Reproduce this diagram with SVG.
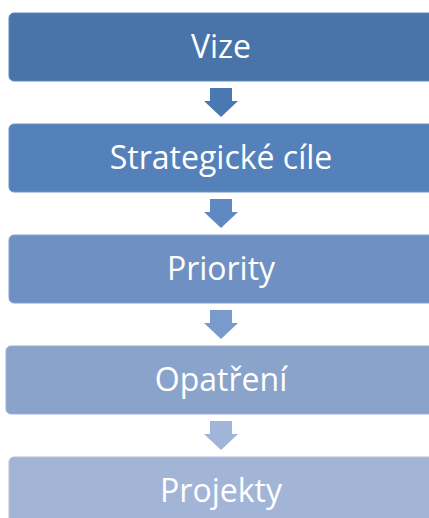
<svg xmlns="http://www.w3.org/2000/svg" width="429" height="518" viewBox="0 0 429 518">
<style>
.box{stroke-width:1}
.lbl{font-family:"Open Sans","Liberation Sans",sans-serif;font-size:32px;fill:#ffffff;text-anchor:middle}
</style>
<defs>
<path id="arr" d="M-11,0 H11 V13 H17 L0,29 L-17,13 H-11 Z"/>
</defs>
<rect width="429" height="518" fill="#ffffff"/>
<g id="connectors">
<use href="#arr" x="221" y="88" fill="#4a78b2"/>
<use href="#arr" x="221" y="199" fill="#6088c2"/>
<use href="#arr" x="221" y="310" fill="#7a9acb"/>
<use href="#arr" x="221" y="421" fill="#a0b5d8"/>
</g>
<g id="vize">
<rect class="box" x="9" y="13" width="430" height="68" rx="5" fill="#4874aa" stroke="#5a86bc"/>
<text class="lbl" x="221" y="58">Vize</text>
</g>
<g id="strategicke-cile">
<rect class="box" x="9" y="124" width="430" height="68" rx="5" fill="#5581bb" stroke="#6a93c8"/>
<text class="lbl" x="221" y="169">Strategické cíle</text>
</g>
<g id="priority">
<rect class="box" x="9" y="235" width="430" height="68" rx="5" fill="#6f90c2" stroke="#84a2cf"/>
<text class="lbl" x="221" y="280">Priority</text>
</g>
<g id="opatreni">
<rect class="box" x="6" y="346" width="433" height="68" rx="5" fill="#89a3cb" stroke="#9bb2d6"/>
<text class="lbl" x="221" y="391">Opatření</text>
</g>
<g id="projekty">
<rect class="box" x="9" y="457" width="430" height="68" rx="5" fill="#a2b5d6" stroke="#b0c0de"/>
<text class="lbl" x="221" y="502">Projekty</text>
</g>
</svg>
